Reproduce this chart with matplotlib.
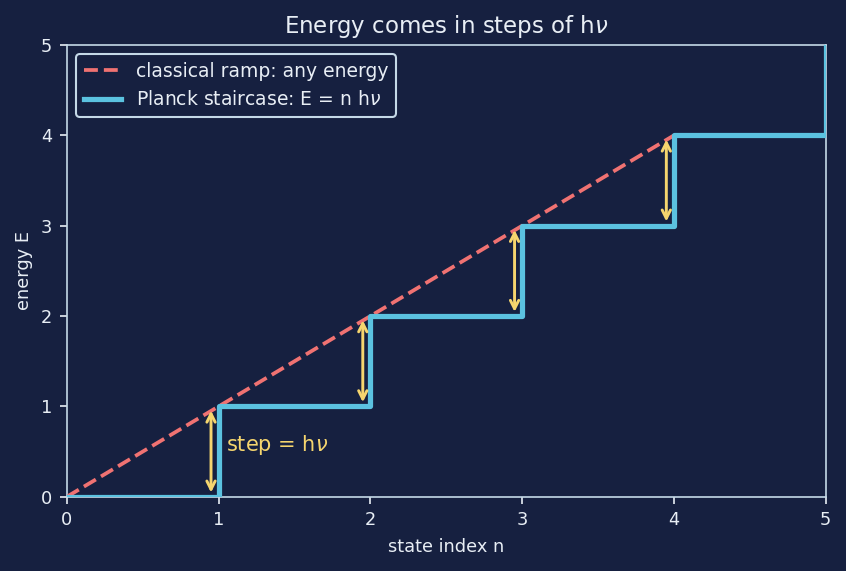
import numpy as np
import matplotlib.pyplot as plt

# data
n_states = [0, 1, 2, 3, 4, 5]
stair_E = [0, 1, 2, 3, 4, 5]
ramp_x = [0, 4]
ramp_E = [0, 4]
arrow_n = [1, 2, 3, 4]

bg = '#162040'
fg = '#e8eef5'
spine_col = '#c5d9e8'

plt.rcParams['font.family'] = ['DejaVu Sans']
fig, ax = plt.subplots(figsize=(5.64, 3.807), dpi=150)
fig.patch.set_facecolor(bg)
ax.set_facecolor(bg)

ax.plot(ramp_x, ramp_E, '--', color='#f07272', lw=1.8, label='classical ramp: any energy', zorder=3)
ax.plot(n_states, stair_E, drawstyle='steps-post', color='#5bc2e0', lw=2.5,
        label='Planck staircase: E = n h$\\nu$', zorder=4)

# step arrows
for n in arrow_n:
    ax.annotate('', xy=(n - 0.05, n - 1), xytext=(n - 0.05, n),
                arrowprops=dict(arrowstyle='<->', color='#f5d56e', lw=1.4), zorder=5)
ax.text(1.05, 0.57, 'step = h$\\nu$', color='#f5d56e', fontsize=10, va='center')

ax.set_xlim(0, 5)
ax.set_ylim(0, 5)
ax.set_xlabel('state index n', color=fg, fontsize=8.5)
ax.set_ylabel('energy E', color=fg, fontsize=8.5)
ax.set_title('Energy comes in steps of h$\\nu$', color=fg, fontsize=11)
ax.tick_params(colors=fg, labelsize=8.5)
for s in ax.spines.values():
    s.set_color(spine_col)

leg = ax.legend(loc='upper left', fontsize=9, facecolor=bg, edgecolor=spine_col, framealpha=1)
for t in leg.get_texts():
    t.set_color(fg)

plt.subplots_adjust(left=0.079, right=0.976, top=0.921, bottom=0.13)
plt.savefig('out.png', facecolor=bg)
